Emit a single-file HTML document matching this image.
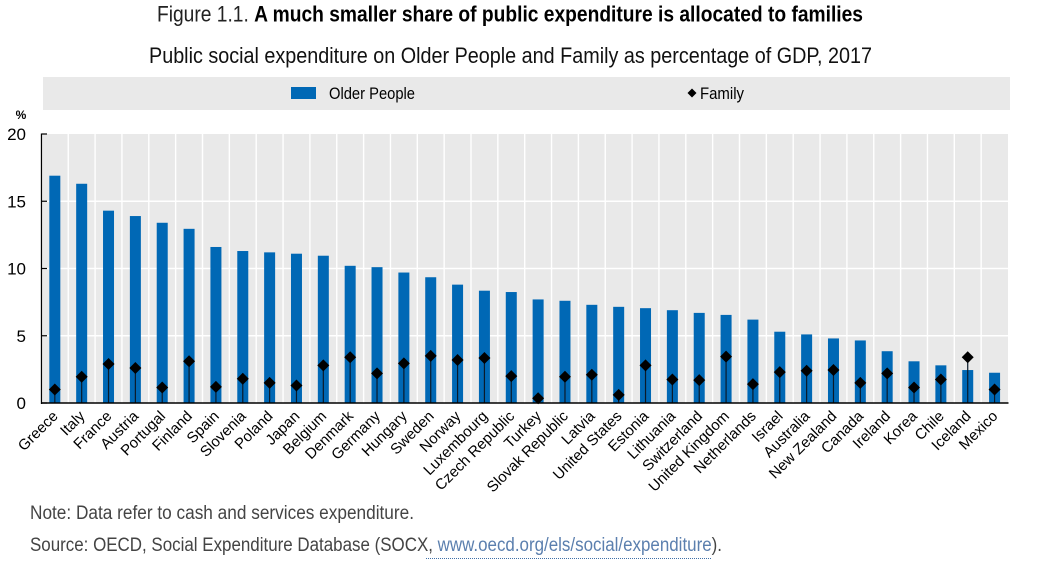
<!DOCTYPE html>
<html lang="en">
<head>
<meta charset="utf-8">
<title>Figure 1.1</title>
<style>
html,body{margin:0;padding:0;background:#fff;width:1043px;height:566px;overflow:hidden}
svg{display:block}
text{font-family:"Liberation Sans Narrow","Liberation Sans",sans-serif}
.arial{font-family:"Liberation Sans",sans-serif}
</style>
</head>
<body>
<svg id="chart" xmlns="http://www.w3.org/2000/svg" width="1043" height="566" viewBox="0 0 1043 566">
  <text x="157" y="21.5" font-size="22" fill="#222" textLength="706" lengthAdjust="spacingAndGlyphs">Figure 1.1. <tspan font-weight="bold" fill="#000">A much smaller share of public expenditure is allocated to families</tspan></text>
  <text x="149" y="63" font-size="22" fill="#111" textLength="723" lengthAdjust="spacingAndGlyphs">Public social expenditure on Older People and Family as percentage of GDP, 2017</text>
  <rect x="43" y="77" width="967" height="33" fill="#e9e9e9"/>
  <rect x="291" y="87" width="25" height="12" fill="#0068b5"/>
  <text x="329" y="99" font-size="17" fill="#000" textLength="86" lengthAdjust="spacingAndGlyphs">Older People</text>
  <path d="M692 88.5l4.5 4.5-4.5 4.5-4.5-4.5z" fill="#000"/>
  <text x="700" y="99" font-size="17" fill="#000" textLength="44" lengthAdjust="spacingAndGlyphs">Family</text>
  <text class="arial" x="21" y="119" font-size="12" font-weight="bold" text-anchor="middle" fill="#000">%</text>
  <g id="plot"></g>
  <text x="30" y="519" font-size="19" fill="#444" textLength="384" lengthAdjust="spacingAndGlyphs">Note: Data refer to cash and services expenditure.</text>
  <text x="30" y="551" font-size="19" fill="#444" textLength="692" lengthAdjust="spacingAndGlyphs">Source: OECD, Social Expenditure Database (SOCX, <tspan fill="#5b7fae">www.oecd.org/els/social/expenditure</tspan>).</text>
  <line x1="426" y1="558.5" x2="711" y2="558.5" stroke="#3f6fa8" stroke-width="1" stroke-dasharray="1 1"/>
</svg>
<script>
const categories = ["Greece","Italy","France","Austria","Portugal","Finland","Spain","Slovenia","Poland","Japan","Belgium","Denmark","Germany","Hungary","Sweden","Norway","Luxembourg","Czech Republic","Turkey","Slovak Republic","Latvia","United States","Estonia","Lithuania","Switzerland","United Kingdom","Netherlands","Israel","Australia","New Zealand","Canada","Ireland","Korea","Chile","Iceland","Mexico"];
const olderPeople = [16.9,16.3,14.3,13.9,13.4,12.95,11.6,11.3,11.2,11.1,10.95,10.2,10.1,9.7,9.35,8.8,8.35,8.25,7.7,7.6,7.3,7.15,7.05,6.9,6.7,6.55,6.2,5.3,5.1,4.8,4.65,3.85,3.1,2.8,2.45,2.25];
const family = [1.0,1.95,2.9,2.6,1.15,3.1,1.2,1.8,1.5,1.3,2.8,3.4,2.2,2.95,3.5,3.2,3.35,2.0,0.35,1.95,2.1,0.6,2.8,1.75,1.7,3.45,1.4,2.3,2.4,2.45,1.5,2.2,1.15,1.75,3.4,1.0];
const yTicks = [0,5,10,15,20];

const NS = "http://www.w3.org/2000/svg";
const plot = document.getElementById("plot");
const left = 41.4, right = 1008, y0 = 403, y20 = 134;
const band = (right - left) / categories.length;
const xScale = i => left + band * (i + 0.5);
const yScale = v => y0 - (v / 20) * (y0 - y20);
function make(tag, attrs, parent) {
  const el = document.createElementNS(NS, tag);
  for (const k in attrs) el.setAttribute(k, attrs[k]);
  (parent || plot).appendChild(el);
  return el;
}

const bg = make("rect", {x: 43, y: y20, width: right - 43, height: y0 - y20, fill: "#e9e9e9"});



yTicks.slice(1, -1).forEach(t => {
  const g = make("line", {x1: 43, x2: right, y1: yScale(t), y2: yScale(t), stroke: "#fff", "stroke-width": 1.4});
  
  
});
categories.slice(1).forEach((c, i) => {
  const gx = left + band * (i + 1);
  const g = make("line", {x1: gx, x2: gx, y1: y20, y2: y0, stroke: "#fff", "stroke-width": 1.4});
  
  
});

olderPeople.forEach((v, i) => {
  const b = make("rect", {x: xScale(i) - 5.5, y: yScale(v), width: 11, height: y0 - yScale(v), fill: "#0068b5"});
  
  
});

family.forEach((v, i) => {
  const s = make("line", {x1: xScale(i), x2: xScale(i), y1: y0, y2: yScale(v), stroke: "#0a1a2a", "stroke-width": 1.2});
  
  
  const cx = xScale(i), cy = yScale(v), r = 6;
  const d = make("polygon", {points: `${cx},${cy - r} ${cx + r},${cy} ${cx},${cy + r} ${cx - r},${cy}`, fill: "#000"});
  
  
});

const yAxis = make("line", {x1: 41.5, x2: 41.5, y1: y20 - 0.5, y2: y0 + 1, stroke: "#000", "stroke-width": 1.3});


const xAxis = make("line", {x1: 41, x2: right + 0.5, y1: y0, y2: y0, stroke: "#000", "stroke-width": 1.5});



yTicks.forEach(t => {
  const tick = make("line", {x1: 41.5, x2: 47, y1: yScale(t), y2: yScale(t), stroke: "#000", "stroke-width": 1.2});
  
  
  const lab = make("text", {x: 26, y: yScale(t) + 6, "text-anchor": "end", "font-size": 17, fill: "#000", class: "arial"});
  
  
  lab.textContent = t;
});

categories.forEach((c, i) => {
  const lx = xScale(i) + 4, ly = 417;
  const lab = make("text", {x: lx, y: ly, "text-anchor": "end", "font-size": 15, fill: "#000", class: "arial", transform: `rotate(-45 ${lx} ${ly})`});
  
  
  lab.textContent = c;
});
</script>
</body>
</html>
